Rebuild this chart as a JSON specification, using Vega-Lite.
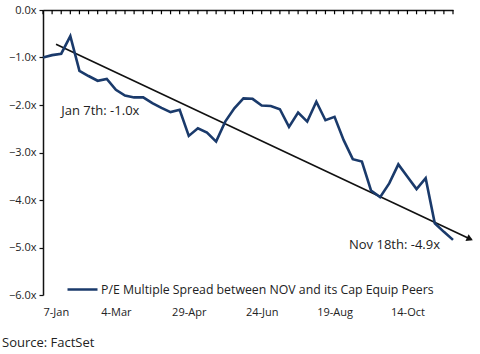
{
  "$schema": "https://vega.github.io/schema/vega-lite/v6.json",
  "width": 410,
  "height": 285,
  "autosize": {"type": "none"},
  "padding": {"left": 43, "top": 10, "right": 27, "bottom": 59},
  "background": "white",
  "config": {
    "view": {"stroke": null},
    "font": "Open Sans",
    "axis": {"labelFont": "Open Sans", "labelColor": "#222", "domainColor": "#111", "tickColor": "#111", "ticks": true, "grid": false, "title": null},
    "legend": {"labelFont": "Open Sans"}
  },
  "title": {"text": "Source: FactSet", "orient": "bottom", "anchor": "start", "frame": "group", "dx": -41, "offset": 20, "fontSize": 13, "fontWeight": "normal", "color": "#222", "font": "Open Sans"},
  "datasets": {
    "spread": [
      {"date": "2013-01-07", "value": -1.00, "series": "P/E Multiple Spread between NOV and its Cap Equip Peers"},
      {"date": "2013-01-14", "value": -0.95, "series": "P/E Multiple Spread between NOV and its Cap Equip Peers"},
      {"date": "2013-01-21", "value": -0.92, "series": "P/E Multiple Spread between NOV and its Cap Equip Peers"},
      {"date": "2013-01-28", "value": -0.55, "series": "P/E Multiple Spread between NOV and its Cap Equip Peers"},
      {"date": "2013-02-04", "value": -1.28, "series": "P/E Multiple Spread between NOV and its Cap Equip Peers"},
      {"date": "2013-02-11", "value": -1.39, "series": "P/E Multiple Spread between NOV and its Cap Equip Peers"},
      {"date": "2013-02-18", "value": -1.49, "series": "P/E Multiple Spread between NOV and its Cap Equip Peers"},
      {"date": "2013-02-25", "value": -1.45, "series": "P/E Multiple Spread between NOV and its Cap Equip Peers"},
      {"date": "2013-03-04", "value": -1.68, "series": "P/E Multiple Spread between NOV and its Cap Equip Peers"},
      {"date": "2013-03-11", "value": -1.80, "series": "P/E Multiple Spread between NOV and its Cap Equip Peers"},
      {"date": "2013-03-18", "value": -1.84, "series": "P/E Multiple Spread between NOV and its Cap Equip Peers"},
      {"date": "2013-03-25", "value": -1.84, "series": "P/E Multiple Spread between NOV and its Cap Equip Peers"},
      {"date": "2013-04-01", "value": -1.96, "series": "P/E Multiple Spread between NOV and its Cap Equip Peers"},
      {"date": "2013-04-08", "value": -2.06, "series": "P/E Multiple Spread between NOV and its Cap Equip Peers"},
      {"date": "2013-04-15", "value": -2.15, "series": "P/E Multiple Spread between NOV and its Cap Equip Peers"},
      {"date": "2013-04-22", "value": -2.10, "series": "P/E Multiple Spread between NOV and its Cap Equip Peers"},
      {"date": "2013-04-29", "value": -2.65, "series": "P/E Multiple Spread between NOV and its Cap Equip Peers"},
      {"date": "2013-05-06", "value": -2.49, "series": "P/E Multiple Spread between NOV and its Cap Equip Peers"},
      {"date": "2013-05-13", "value": -2.58, "series": "P/E Multiple Spread between NOV and its Cap Equip Peers"},
      {"date": "2013-05-20", "value": -2.77, "series": "P/E Multiple Spread between NOV and its Cap Equip Peers"},
      {"date": "2013-05-27", "value": -2.35, "series": "P/E Multiple Spread between NOV and its Cap Equip Peers"},
      {"date": "2013-06-03", "value": -2.07, "series": "P/E Multiple Spread between NOV and its Cap Equip Peers"},
      {"date": "2013-06-10", "value": -1.86, "series": "P/E Multiple Spread between NOV and its Cap Equip Peers"},
      {"date": "2013-06-17", "value": -1.87, "series": "P/E Multiple Spread between NOV and its Cap Equip Peers"},
      {"date": "2013-06-24", "value": -2.01, "series": "P/E Multiple Spread between NOV and its Cap Equip Peers"},
      {"date": "2013-07-01", "value": -2.02, "series": "P/E Multiple Spread between NOV and its Cap Equip Peers"},
      {"date": "2013-07-08", "value": -2.09, "series": "P/E Multiple Spread between NOV and its Cap Equip Peers"},
      {"date": "2013-07-15", "value": -2.46, "series": "P/E Multiple Spread between NOV and its Cap Equip Peers"},
      {"date": "2013-07-22", "value": -2.16, "series": "P/E Multiple Spread between NOV and its Cap Equip Peers"},
      {"date": "2013-07-29", "value": -2.35, "series": "P/E Multiple Spread between NOV and its Cap Equip Peers"},
      {"date": "2013-08-05", "value": -1.93, "series": "P/E Multiple Spread between NOV and its Cap Equip Peers"},
      {"date": "2013-08-12", "value": -2.32, "series": "P/E Multiple Spread between NOV and its Cap Equip Peers"},
      {"date": "2013-08-19", "value": -2.25, "series": "P/E Multiple Spread between NOV and its Cap Equip Peers"},
      {"date": "2013-08-26", "value": -2.74, "series": "P/E Multiple Spread between NOV and its Cap Equip Peers"},
      {"date": "2013-09-02", "value": -3.14, "series": "P/E Multiple Spread between NOV and its Cap Equip Peers"},
      {"date": "2013-09-09", "value": -3.19, "series": "P/E Multiple Spread between NOV and its Cap Equip Peers"},
      {"date": "2013-09-16", "value": -3.80, "series": "P/E Multiple Spread between NOV and its Cap Equip Peers"},
      {"date": "2013-09-23", "value": -3.94, "series": "P/E Multiple Spread between NOV and its Cap Equip Peers"},
      {"date": "2013-09-30", "value": -3.65, "series": "P/E Multiple Spread between NOV and its Cap Equip Peers"},
      {"date": "2013-10-07", "value": -3.25, "series": "P/E Multiple Spread between NOV and its Cap Equip Peers"},
      {"date": "2013-10-14", "value": -3.51, "series": "P/E Multiple Spread between NOV and its Cap Equip Peers"},
      {"date": "2013-10-21", "value": -3.77, "series": "P/E Multiple Spread between NOV and its Cap Equip Peers"},
      {"date": "2013-10-28", "value": -3.54, "series": "P/E Multiple Spread between NOV and its Cap Equip Peers"},
      {"date": "2013-11-04", "value": -4.49, "series": "P/E Multiple Spread between NOV and its Cap Equip Peers"},
      {"date": "2013-11-11", "value": -4.67, "series": "P/E Multiple Spread between NOV and its Cap Equip Peers"},
      {"date": "2013-11-18", "value": -4.84, "series": "P/E Multiple Spread between NOV and its Cap Equip Peers"}
    ],
    "trend": [
      {"date": "2013-01-17", "value": -0.72},
      {"date": "2013-12-02", "value": -4.83}
    ],
    "arrowhead": [
      {"date": "2013-12-01", "value": -4.82}
    ],
    "noteStart": [
      {"date": "2013-01-21", "value": -2.12, "label": "Jan 7th: -1.0x"}
    ],
    "noteEnd": [
      {"date": "2013-11-08", "value": -4.95, "label": "Nov 18th: -4.9x"}
    ]
  },
  "layer": [
    {
      "data": {"name": "trend"},
      "mark": {"type": "line", "color": "#111", "strokeWidth": 1.6, "clip": false},
      "encoding": {
        "x": {
          "field": "date", "type": "temporal",
          "scale": {"type": "utc", "domain": [{"year": 2013, "month": "jan", "date": 7, "utc": true}, {"year": 2013, "month": "nov", "date": 18, "utc": true}]},
          "axis": {
            "orient": "bottom", "offset": -285, "labels": false, "ticks": false, "domainWidth": 1.5
          }
        },
        "y": {
          "field": "value", "type": "quantitative",
          "scale": {"domain": [-6, 0], "nice": false, "zero": false},
          "axis": {
            "orient": "left", "values": [0, -1, -2, -3, -4, -5, -6],
            "labelExpr": "format(datum.value, '.1f') + 'x'",
            "labelFontSize": 11, "labelPadding": 3, "ticks": true, "tickSize": 4, "tickWidth": 1.2, "domainWidth": 1.5
          }
        }
      }
    },
    {
      "data": {"name": "spread"},
      "mark": {"type": "rule", "color": "#000", "strokeWidth": 1.2},
      "encoding": {
        "x": {"field": "date", "type": "temporal", "axis": null},
        "y": {"datum": 0},
        "y2": {"datum": -0.09}
      }
    },
    {
      "data": {"name": "arrowhead"},
      "mark": {"type": "point", "shape": "triangle-right", "filled": true, "color": "#111", "opacity": 1, "size": 55, "angle": 25, "clip": false},
      "encoding": {
        "x": {"field": "date", "type": "temporal", "axis": null},
        "y": {"field": "value", "type": "quantitative"}
      }
    },
    {
      "data": {"name": "spread"},
      "mark": {"type": "line", "strokeWidth": 2.6, "strokeJoin": "miter"},
      "encoding": {
        "x": {
          "field": "date", "type": "temporal",
          "scale": {"type": "utc", "domain": [{"year": 2013, "month": "jan", "date": 7, "utc": true}, {"year": 2013, "month": "nov", "date": 18, "utc": true}]},
          "axis": {
            "orient": "bottom", "domain": false, "ticks": false, "labelPadding": 11, "labelFontSize": 11, "format": "%-d-%b",
            "values": [
              {"year": 2013, "month": "jan", "date": 7, "utc": true},
              {"year": 2013, "month": "mar", "date": 4, "utc": true},
              {"year": 2013, "month": "apr", "date": 29, "utc": true},
              {"year": 2013, "month": "jun", "date": 24, "utc": true},
              {"year": 2013, "month": "aug", "date": 19, "utc": true},
              {"year": 2013, "month": "oct", "date": 14, "utc": true}
            ]
          }
        },
        "y": {"field": "value", "type": "quantitative"},
        "color": {
          "field": "series", "type": "nominal",
          "scale": {"range": ["#1A3A6B"]},
          "legend": {
            "title": null, "orient": "none", "legendX": 23, "legendY": 263,
            "symbolType": "stroke", "symbolSize": 900, "symbolStrokeWidth": 2.5,
            "labelFontSize": 12.3, "labelLimit": 500, "labelColor": "#222", "labelOffset": 2
          }
        }
      }
    },
    {
      "data": {"name": "noteStart"},
      "mark": {"type": "text", "align": "left", "baseline": "middle", "fontSize": 13, "color": "#222"},
      "encoding": {
        "x": {"field": "date", "type": "temporal", "axis": null},
        "y": {"field": "value", "type": "quantitative"},
        "text": {"field": "label"}
      }
    },
    {
      "data": {"name": "noteEnd"},
      "mark": {"type": "text", "align": "right", "baseline": "middle", "fontSize": 13, "color": "#222"},
      "encoding": {
        "x": {"field": "date", "type": "temporal", "axis": null},
        "y": {"field": "value", "type": "quantitative"},
        "text": {"field": "label"}
      }
    }
  ],
  "resolve": {"axis": {"x": "independent"}}
}
